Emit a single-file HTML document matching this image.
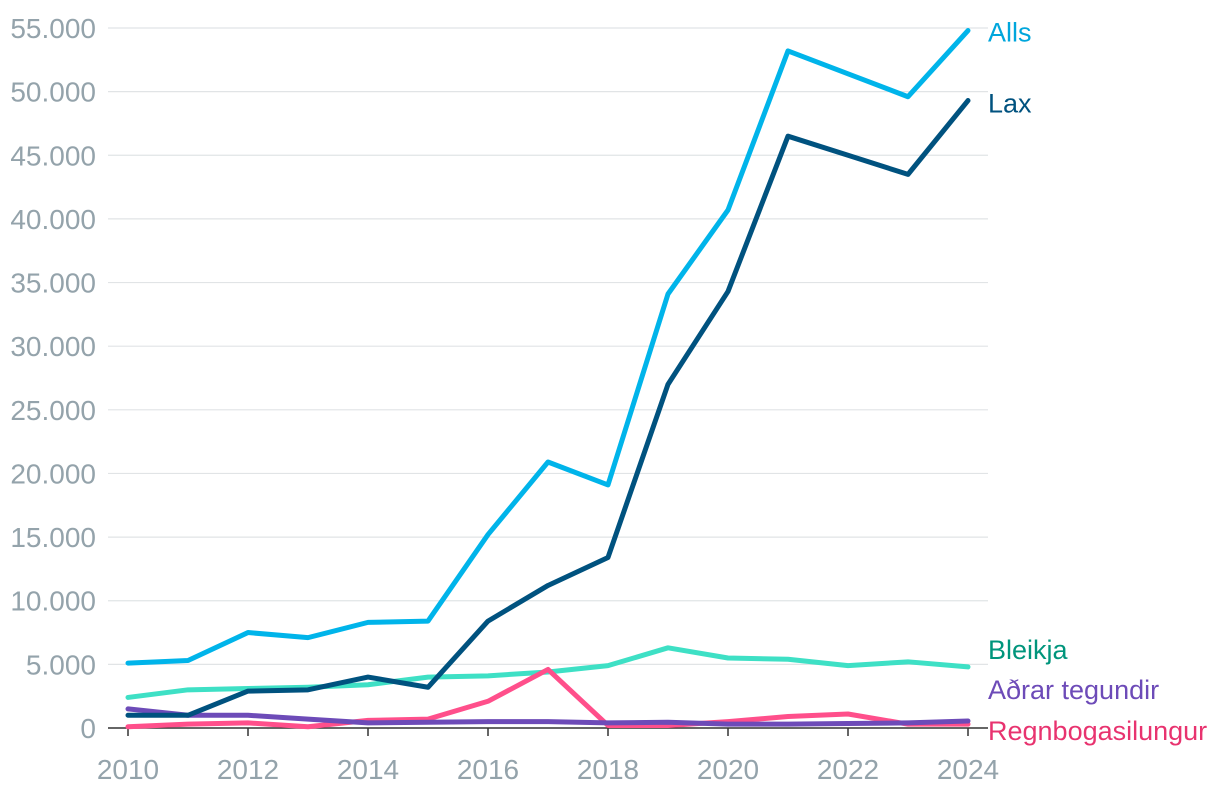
<!DOCTYPE html>
<html><head><meta charset="utf-8"><style>
body{margin:0;background:#fff;}
svg{display:block;font-family:"Liberation Sans",sans-serif;}
</style></head><body>
<svg id="chart" width="1220" height="794" viewBox="0 0 1220 794"></svg>
<script>
const years=[2010,2011,2012,2013,2014,2015,2016,2017,2018,2019,2020,2021,2022,2023,2024];
const alls=[5100,5300,7500,7100,8300,8400,15200,20900,19100,34100,40700,53200,51400,49600,54800];
const lax=[1000,1000,2900,3000,4000,3200,8400,11200,13400,27000,34300,46500,45000,43500,49300];
const bleikja=[2400,3000,3100,3200,3400,4000,4100,4400,4900,6300,5500,5400,4900,5200,4800];
const regnbogi=[100,300,400,100,600,700,2100,4600,200,200,500,900,1100,300,300];
const adrar=[1500,1000,1000,700,400,450,500,500,400,450,300,300,350,400,550];
const yTicks=[0,5000,10000,15000,20000,25000,30000,35000,40000,45000,50000,55000];
const yTickLabels=["0","5.000","10.000","15.000","20.000","25.000","30.000","35.000","40.000","45.000","50.000","55.000"];
const xTicks=[2010,2012,2014,2016,2018,2020,2022,2024];

const svg=document.getElementById('chart');
const NS='http://www.w3.org/2000/svg';
const x=v=>128+(v-2010)*60;
const y=v=>728-v*(700/55000);
function mk(tag,attrs){const e=document.createElementNS(NS,tag);for(const k in attrs)e.setAttribute(k,attrs[k]);svg.appendChild(e);return e;}

yTicks.forEach((t,i)=>{
  if(t>0){const g=mk('line',{x1:108,x2:988,y1:y(t),y2:y(t),stroke:'#e1e4e6','stroke-width':1.2});
  
  }
  const tx=mk('text',{x:96,y:y(t)+10,'text-anchor':'end','font-size':28,fill:'#94a3ab'});
  tx.textContent=yTickLabels[i];
  
  
});
const ax=mk('line',{x1:108,x2:988,y1:728,y2:728,stroke:'#333','stroke-width':1.5});


xTicks.forEach(t=>{
  const tk=mk('line',{x1:x(t),x2:x(t),y1:728,y2:736,stroke:'#333','stroke-width':1.5});
  
  
  const tx=mk('text',{x:x(t),y:779,'text-anchor':'middle','font-size':28,fill:'#94a3ab'});
  tx.textContent=t;
  
  
});
const series=[
 {name:'Bleikja',data:bleikja,color:'#3ee0c5',lc:'#00957c',ly:y(bleikja[14])-8},
 {name:'Regnbogasilungur',data:regnbogi,color:'#ff4f8b',lc:'#e8336f',ly:740},
 {name:'Aðrar tegundir',data:adrar,color:'#6d4bb8',lc:'#6d4bb8',ly:699},
 {name:'Lax',data:lax,color:'#00527f',lc:'#00527f',ly:y(lax[14])+12},
 {name:'Alls',data:alls,color:'#00b4ea',lc:'#00a6dc',ly:y(alls[14])+11},
];
series.forEach(s=>{
  const p=mk('polyline',{points:s.data.map((v,i)=>x(years[i])+','+y(v)).join(' '),fill:'none',stroke:s.color,'stroke-width':5,'stroke-linejoin':'round','stroke-linecap':'round'});
  
  
  const t=mk('text',{x:988,y:s.ly,'font-size':27,fill:s.lc});
  t.textContent=s.name;
  
  
});
</script>
</body></html>
